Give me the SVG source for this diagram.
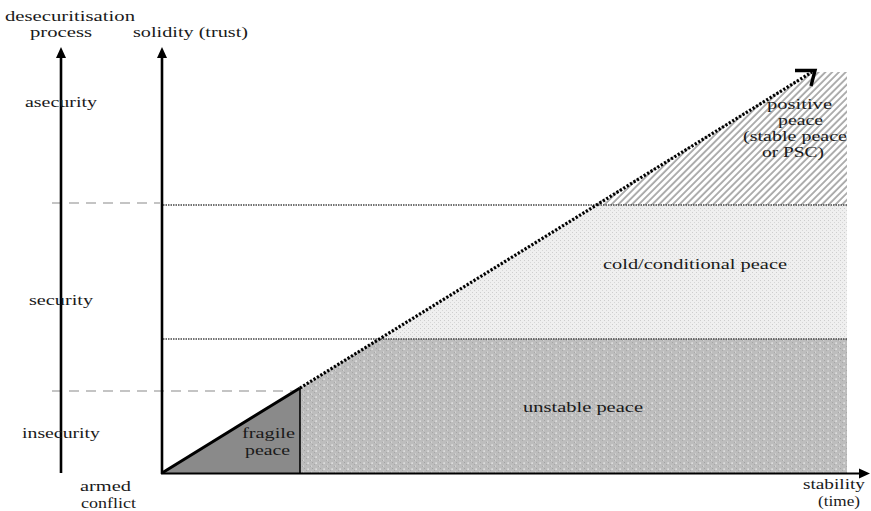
<svg xmlns="http://www.w3.org/2000/svg" width="871" height="511" viewBox="0 0 871 511">
<style>
text{font-family:"Liberation Serif","Times New Roman",serif;font-size:15px;fill:#1a1a1a;}
.axis{stroke:#000;stroke-width:2.6;fill:none;}
.dash{stroke:#8a8a8a;stroke-width:1.2;stroke-dasharray:10 7;fill:none;}
.dot{stroke:#444;stroke-width:1.5;stroke-dasharray:1.5 1;fill:none;}
.head{fill:#000;}
</style>
<defs>
<pattern id="hatch" patternUnits="userSpaceOnUse" width="4.8" height="4.8" patternTransform="rotate(45)">
<rect width="4.8" height="4.8" fill="#fff"/>
<line x1="1" y1="0" x2="1" y2="4.8" stroke="#8e8e8e" stroke-width="1.4"/>
</pattern>
<pattern id="light" patternUnits="userSpaceOnUse" width="4" height="4">
<rect width="4" height="4" fill="#efefef"/>
<rect x="0" y="0" width="1" height="1" fill="#cdcdcd"/>
<rect x="2" y="2" width="1" height="1" fill="#d6d6d6"/>
</pattern>
<pattern id="mid" patternUnits="userSpaceOnUse" width="8" height="6">
<rect width="8" height="6" fill="#bdbdbd"/>
<rect x="0" y="0" width="1" height="1" fill="#a4a4a4"/>
<rect x="2" y="2" width="1" height="1" fill="#a8a8a8"/>
<rect x="6" y="4" width="1" height="1" fill="#a8a8a8"/>
<rect x="3.5" y="0.5" width="1.2" height="1.2" fill="#fff"/>
<rect x="7.5" y="3.5" width="1.2" height="1.2" fill="#fff"/>
</pattern>
</defs>

<g id="regions">
<polygon id="positive-peace" points="594,205 811,72 847,72 847,205" fill="url(#hatch)"/>
<polygon id="cold-peace" points="378,339 594,205 847,205 847,339" fill="url(#light)"/>
<polygon id="unstable-peace" points="300,388 378,339 847,339 847,473 300,473" fill="url(#mid)"/>
<polygon id="fragile-peace" points="162,473 300,388 300,473" fill="#8a8a8a"/>
</g>

<g id="connectors">
<line class="dash" x1="52" y1="203" x2="160" y2="203"/>
<line class="dash" x1="52" y1="391" x2="298" y2="391"/>
<line class="dot" x1="163" y1="205" x2="847" y2="205"/>
<line class="dot" x1="163" y1="339" x2="847" y2="339"/>
<line x1="300" y1="388" x2="300" y2="473" stroke="#000" stroke-width="1.6"/>
<line x1="162" y1="473" x2="300" y2="388" stroke="#000" stroke-width="3"/>
<line x1="300" y1="388" x2="812" y2="72" stroke="#000" stroke-width="3.2" stroke-dasharray="2.2 1.8"/>
<path d="M795,70.5 L815,70.5 L811,86" fill="none" stroke="#000" stroke-width="3.4"/>
<line class="axis" x1="61" y1="473" x2="61" y2="55"/>
<polygon class="head" points="61,47 56,58 66,58"/>
<line class="axis" x1="162" y1="474" x2="162" y2="55"/>
<polygon class="head" points="162,47 157,58 167,58"/>
<line class="axis" x1="161" y1="473.5" x2="861" y2="473.5" style="stroke-width:2.2"/>
<polygon class="head" points="870,473.5 859,468.5 859,478.5"/>
</g>

<g id="labels">
<text x="5" y="21" textLength="130" lengthAdjust="spacingAndGlyphs">desecuritisation</text>
<text x="30" y="37" textLength="62" lengthAdjust="spacingAndGlyphs">process</text>
<text x="133" y="37" textLength="115" lengthAdjust="spacingAndGlyphs">solidity (trust)</text>
<text x="25" y="107" textLength="72" lengthAdjust="spacingAndGlyphs">asecurity</text>
<text x="29" y="305" textLength="64" lengthAdjust="spacingAndGlyphs">security</text>
<text x="22" y="438" textLength="78" lengthAdjust="spacingAndGlyphs">insecurity</text>
<text x="80" y="491" textLength="51" lengthAdjust="spacingAndGlyphs">armed</text>
<text x="81" y="508" textLength="55" lengthAdjust="spacingAndGlyphs">conflict</text>
<text x="803" y="489" textLength="62" lengthAdjust="spacingAndGlyphs">stability</text>
<text x="818" y="506" textLength="42" lengthAdjust="spacingAndGlyphs">(time)</text>
<text x="242" y="438" textLength="53" lengthAdjust="spacingAndGlyphs">fragile</text>
<text x="245" y="455" textLength="45" lengthAdjust="spacingAndGlyphs">peace</text>
<text x="523" y="412" textLength="120" lengthAdjust="spacingAndGlyphs">unstable peace</text>
<text x="603" y="269" textLength="184" lengthAdjust="spacingAndGlyphs">cold/conditional peace</text>
<text x="767" y="109" textLength="65" lengthAdjust="spacingAndGlyphs">positive</text>
<text x="778" y="125" textLength="45" lengthAdjust="spacingAndGlyphs">peace</text>
<text x="743" y="141" textLength="104" lengthAdjust="spacingAndGlyphs">(stable peace</text>
<text x="762" y="157" textLength="62" lengthAdjust="spacingAndGlyphs">or PSC)</text>
</g>
</svg>
